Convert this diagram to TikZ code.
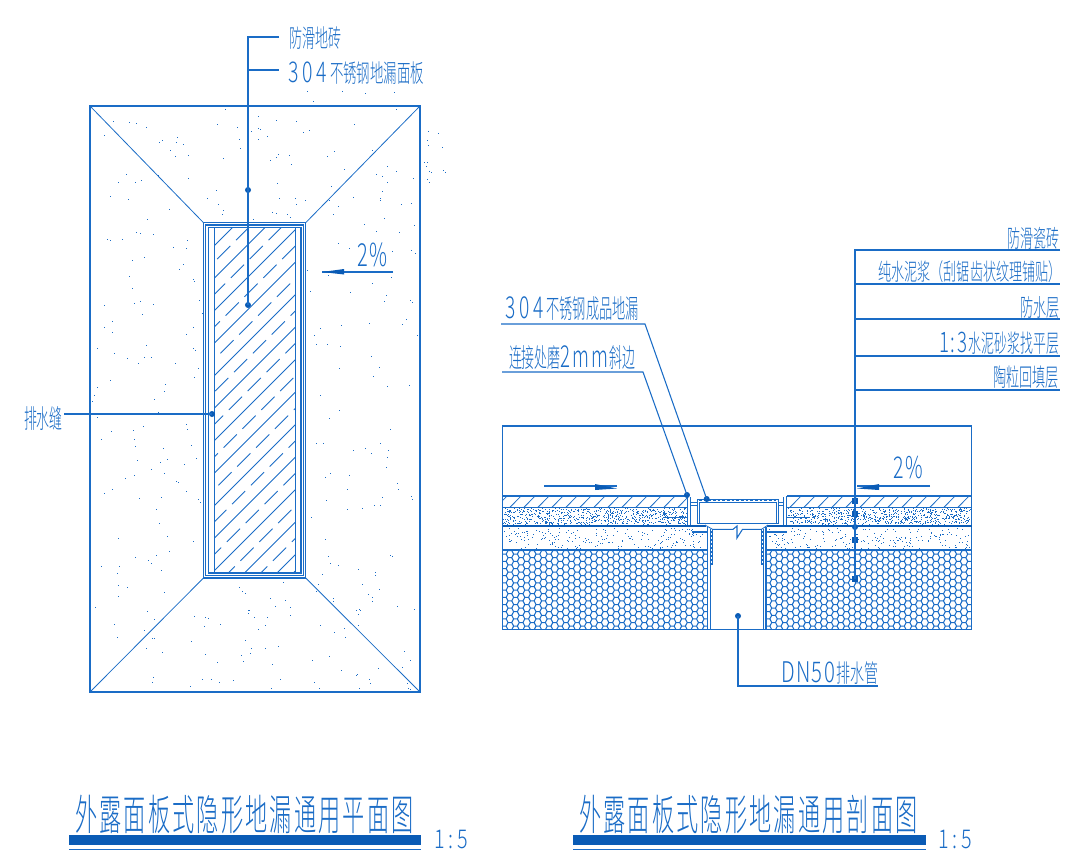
\documentclass[tikz,border=0pt]{standalone}
\usepackage{graphicx}
\usepackage{fontspec}
\newfontfamily\cjk{Noto Sans CJK SC Light}
\definecolor{cad}{HTML}{1A6CC6}
\definecolor{bar}{HTML}{0A5BB5}
\newcommand{\lab}[5]{\node[lbl] (#1) at (#2) {\resizebox*{#3pt}{#4pt}{\cjk #5}};}
\newcommand{\wdg}[1]{\scalebox{1.45}[1.15]{#1}}
\newcommand{\stip}[5]{\foreach \i in {1,...,#5}{\pgfmathsetmacro\px{#1+rnd*(#3-#1)}\pgfmathsetmacro\py{#2+rnd*(#4-#2)}\fill[cad] (\px,\py) rectangle +(1,1);}}
\newcommand{\hexes}[4]{\begin{scope}
 \clip (#1,#2) rectangle (#3,#4);
 \draw[cad,line width=.75pt] \foreach \c in {0,...,40}{\foreach \r in {0,...,14}{
   \pgfextra{\pgfmathsetmacro\hx{#1+2+\c*5.6}\pgfmathsetmacro\hy{#2+\r*7.2+(mod(\c,2)*3.6)}}
   (\hx-3.7,\hy) -- (\hx-1.85,\hy-3.6) -- (\hx+1.85,\hy-3.6) -- (\hx+3.7,\hy) -- (\hx+1.85,\hy+3.6) -- (\hx-1.85,\hy+3.6) -- cycle}};
 \end{scope}}
\tikzset{
 ln/.style={draw=cad,line width=.8pt},
 thn/.style={draw=cad,line width=.6pt},
 lbl/.style={anchor=north west,inner sep=0pt,outer sep=0pt,text=cad},
 dot/.style={circle,fill=bar,draw=none,inner sep=0pt,minimum size=4.5pt},
 sq/.style={rectangle,fill=bar,draw=none,inner sep=0pt,minimum size=4.2pt},
}
\begin{document}
\begin{tikzpicture}[x=0.75pt,y=-0.75pt]
\useasboundingbox (0,0) rectangle (1090,868);
\pgfmathsetseed{4217}
% ---------- plan
\draw[ln] (90,106) rectangle (420,692);
\draw[ln] (203.5,222.7) rectangle (305.7,578);
\draw[ln] (205.5,225) rectangle (303.3,575.3);
\draw[ln] (208.3,227.3) rectangle (301,573);
\draw[ln] (214.3,227.3) rectangle (295.7,573);
\draw[thn] (90,106) -- (203.5,222.7) (420,106) -- (305.7,222.7) (90,692) -- (203.5,578) (420,692) -- (305.7,578);
\begin{scope}
 \clip (214.3,227.3) rectangle (295.7,573);
 \foreach \k in {0,...,18}{
  \pgfmathsetmacro\s{460+32.5*\k}
  \draw[thn] (\s-227,227) -- (\s-573,573);
  \draw[thn,dash pattern=on 14pt off 6pt] (\s+16.2-227,227) -- (\s+16.2-573,573);
 }
\end{scope}
\stip{92}{108}{203}{690}{135}
\stip{307}{108}{418}{690}{135}
\stip{204}{108}{305}{221}{35}
\stip{204}{580}{305}{690}{35}
\stip{422}{108}{445}{195}{14}
\stip{305}{86}{410}{104}{5}
% plan leaders
\node[dot] (p1) at (248,190) {};
\node[dot] (p2) at (248,305) {};
\node[dot] (p3) at (212,414) {};
\coordinate (a1) at (248,37); \coordinate (a2) at (279,37);
\coordinate (a3) at (248,70); \coordinate (a4) at (279,70);
\coordinate (a5) at (64,414);
\draw[ln] (a2) -- (a1) -- (p2.center) (a3) -- (a4) (a5) -- (p3.center);
\lab{t1}{289,27}{39}{17}{防滑地砖}
\lab{t2}{288,62}{102}{17}{\wdg{3}\kern.3em\wdg{0}\kern.3em\wdg{4}\kern.2em 不锈钢地漏面板}
\lab{t3}{24,406}{29}{18}{排水缝}
\lab{t4}{357,243}{23}{18}{2\kern.1em\%}
\coordinate (b1) at (393,272); \coordinate (b2) at (322,272);
\draw[ln] (b1) -- (b2);
\fill[bar] (322,272) -- (344,269) -- (344,274.5) -- cycle;
% ---------- section
\draw[ln] (502.3,426) rectangle (971.5,629.3);
% tile
\begin{scope}
 \clip (502.3,496) rectangle (688,507.3) (787,496) rectangle (971.5,507.3);
 \foreach \k in {0,...,34}{\draw[thn] (\k*14+496,507.3) -- (\k*14+508,495);}
\end{scope}
\draw[ln] (502.3,496) -- (688,496) (502.3,507.3) -- (688,507.3) (787,496) -- (971.5,496) (787,507.3) -- (971.5,507.3);
\draw[line width=2pt,draw=bar] (502.3,526) -- (706,526) (767,526) -- (971.5,526);
\draw[ln] (502.3,550) -- (707.7,550) (766,550) -- (971.5,550);
\draw[ln] (502.3,496) -- (502.3,629.3);
% stipple
\stip{503}{508}{687}{524}{700}
\stip{788}{508}{971}{524}{700}
\stip{503}{528}{706}{549}{210}
\stip{768}{528}{971}{549}{210}
% hex
\hexes{502.3}{550.5}{707.7}{629}
\hexes{766}{550.5}{971.5}{629}
% pipe walls
\draw[ln] (707.7,527) -- (707.7,629.3) (710.7,529) -- (710.7,629.3) (712.9,529) -- (712.9,565);
\draw[ln] (766,527) -- (766,629.3) (763.3,529) -- (763.3,629.3) (761.2,529) -- (761.2,565);
\draw[thn,dash pattern=on 1.5pt off 1.5pt,line width=1.2pt] (711.8,531) -- (711.8,565) (762.2,531) -- (762.2,565);
% drain panel
\draw[ln] (697.3,499.3) rectangle (778.3,523.3);
\draw[thn] (699.3,502) rectangle (776,523.3);
\draw[thn,dash pattern=on 2pt off 1.5pt,line width=1.1pt] (699,500.7) -- (776,500.7);
\draw[ln] (687.5,496) -- (687.5,525) (690.7,497) -- (690.7,525) (783.3,497) -- (783.3,525) (786.7,496) -- (786.7,525);
\draw[thn] (690.7,502) -- (697.3,502) (690.7,505) -- (697.3,505) (778.3,502) -- (783.3,502) (778.3,505) -- (783.3,505);
\draw[ln] (663,517.7) -- (688,517.7) (787,517.7) -- (810,517.7);
\draw[ln] (697,523.3) -- (778,523.3);
\draw[ln] (692,532) -- (708,532) (766,532) -- (787,532);
\draw[thn] (705,525) -- (712.9,529.5) (768,525) -- (761.2,529.5);
\draw[ln] (712.9,529.3) -- (733,529.3) -- (737,526) -- (737,538) -- (742.5,529.3) -- (761.2,529.3);
% section arrows
\coordinate (c1) at (544,486); \coordinate (c2) at (617,486);
\draw[ln] (c1) -- (c2);
\fill[bar] (617,488.5) -- (595,484) -- (595,490) -- cycle;
\coordinate (c3) at (930,486); \coordinate (c4) at (857,486);
\draw[ln] (c3) -- (c4);
\fill[bar] (857,488.5) -- (879,484) -- (879,490) -- cycle;
\lab{t5}{893,456}{22.5}{17}{2\kern.1em\%}
% right leaders
\node[sq] (s1) at (855,501) {};
\node[sq] (s2) at (855,514) {};
\node[dot] (s3) at (855,527) {};
\node[sq] (s4) at (855,540) {};
\node[sq] (s5) at (855,579) {};
\coordinate (r1) at (855,250); \coordinate (r1e) at (1060,250);
\coordinate (r2) at (855,284); \coordinate (r2e) at (1060,284);
\coordinate (r3) at (855,319); \coordinate (r3e) at (1060,319);
\coordinate (r4) at (855,356); \coordinate (r4e) at (1060,356);
\coordinate (r5) at (855,390); \coordinate (r5e) at (1060,390);
\draw[ln] (r1e) -- (r1) -- (s5.center) (r2) -- (r2e) (r3) -- (r3e) (r4) -- (r4e) (r5) -- (r5e);
\lab{t6}{1007,227}{39}{16.5}{防滑瓷砖}
\lab{t7}{878,261}{138}{16.5}{纯水泥浆（刮锯齿状纹理铺贴）}
\lab{t8}{1020,296}{29.5}{16.5}{防水层}
\lab{t9}{939,332}{90}{17}{\wdg{1}\kern.1em\wdg{:}\kern.2em\wdg{3}\kern.1em 水泥砂浆找平层}
\lab{t10}{993,366}{49.5}{17}{陶粒回填层}
% left leaders
\node[dot] (e1) at (706.7,499) {};
\node[dot] (e2) at (687,495) {};
\coordinate (f1) at (501,324); \coordinate (f2) at (645,324);
\coordinate (f3) at (502,372); \coordinate (f4) at (643,372);
\draw[ln] (f1) -- (f2) -- (e1.center) (f3) -- (f4) -- (e2.center);
\lab{t11}{505,297}{100.5}{18}{\wdg{3}\kern.3em\wdg{0}\kern.3em\wdg{4}\kern.2em 不锈钢成品地漏}
\lab{t12}{509,346}{95}{18}{连接处磨\wdg{2}\kern.15em\wdg{m}\kern.15em\wdg{m}\kern.15em 斜边}
% DN50
\node[dot] (e3) at (738,616) {};
\coordinate (g1) at (738,686); \coordinate (g2) at (878,686);
\draw[ln] (e3.center) -- (g1) -- (g2);
\lab{t13}{781,662}{73}{17}{\wdg{D}\kern.1em\wdg{N}\kern.1em\wdg{5}\kern.1em\wdg{0}\kern.1em 排水管}
% titles
\lab{t14}{75,795}{254}{29}{外\kern.1em 露\kern.1em 面\kern.1em 板\kern.1em 式\kern.1em 隐\kern.1em 形\kern.1em 地\kern.1em 漏\kern.1em 通\kern.1em 用\kern.1em 平\kern.1em 面\kern.1em 图}
\fill[bar] (69,835) rectangle (421,845);
\draw[ln] (69,849.3) -- (421,849.3);
\lab{t15}{434,830}{25.5}{14}{1\kern.2em:\kern.2em 5}
\lab{t16}{579,795}{254}{29}{外\kern.1em 露\kern.1em 面\kern.1em 板\kern.1em 式\kern.1em 隐\kern.1em 形\kern.1em 地\kern.1em 漏\kern.1em 通\kern.1em 用\kern.1em 剖\kern.1em 面\kern.1em 图}
\fill[bar] (573,835) rectangle (926,845);
\draw[ln] (573,849.3) -- (926,849.3);
\lab{t17}{938,830}{25.5}{14}{1\kern.2em:\kern.2em 5}
\end{tikzpicture}
\end{document}
